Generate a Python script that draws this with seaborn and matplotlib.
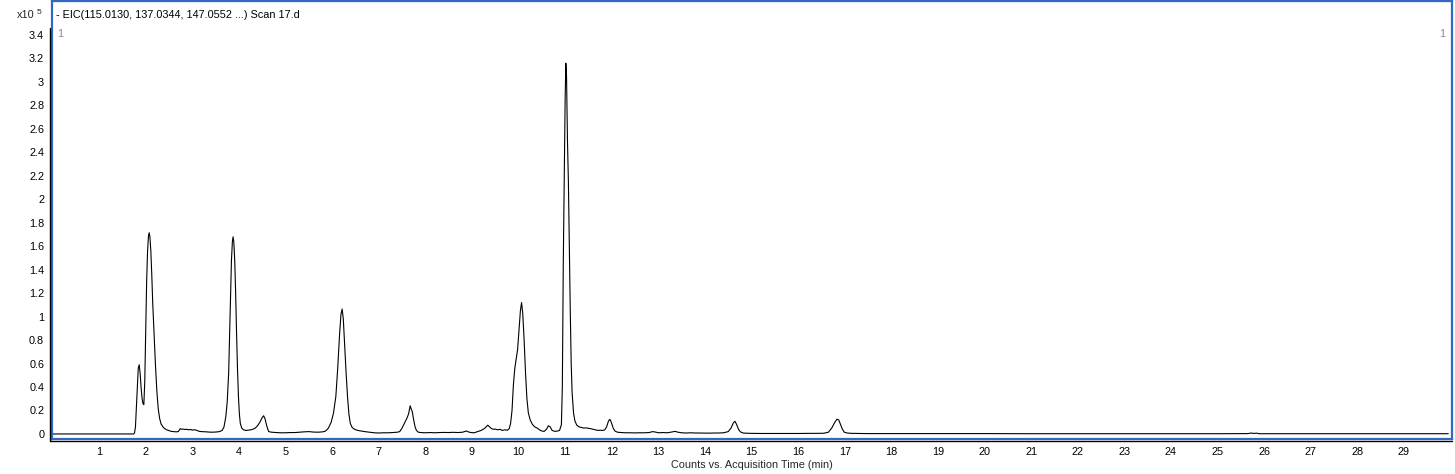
import matplotlib
matplotlib.use("Agg")
import matplotlib.pyplot as plt
from matplotlib.lines import Line2D
import seaborn as sns

# retention time (min) and counts (x10^5)
time_min = [
    0.00, 1.00, 1.74, 1.76, 1.78, 1.80, 1.82, 1.84, 1.86, 1.88, 1.90, 1.92, 1.94, 1.96, 1.98,
    2.00, 2.02, 2.04, 2.06, 2.075, 2.09, 2.11, 2.13, 2.15, 2.18, 2.21, 2.24, 2.27, 2.30, 2.33,
    2.37, 2.41, 2.45, 2.50, 2.55, 2.60, 2.65, 2.70, 2.74, 2.77, 2.80, 2.84, 2.88, 2.92, 2.96,
    3.00, 3.05, 3.10, 3.15, 3.20, 3.30, 3.40, 3.50, 3.58, 3.64, 3.68, 3.72, 3.75, 3.78, 3.80,
    3.82, 3.84, 3.86, 3.875, 3.89, 3.91, 3.93, 3.95, 3.97, 3.99, 4.01, 4.03, 4.06, 4.10, 4.15,
    4.20, 4.25, 4.30, 4.35, 4.40, 4.45, 4.50, 4.53, 4.56, 4.59, 4.62, 4.64, 4.70, 4.80, 4.90,
    5.00, 5.10, 5.20, 5.30, 5.40, 5.50, 5.60, 5.70, 5.80, 5.86, 5.92, 5.98, 6.03, 6.08, 6.12,
    6.16, 6.19, 6.215, 6.24, 6.27, 6.30, 6.33, 6.36, 6.39, 6.43, 6.48, 6.55, 6.62, 6.70, 6.80,
    6.90, 7.00, 7.10, 7.20, 7.30, 7.40, 7.45, 7.50, 7.55, 7.60, 7.64, 7.675, 7.70, 7.72, 7.75,
    7.78, 7.81, 7.85, 7.90, 8.00, 8.10, 8.20, 8.30, 8.40, 8.50, 8.60, 8.70, 8.80, 8.88, 8.92,
    8.98, 9.05, 9.12, 9.20, 9.28, 9.34, 9.38, 9.42, 9.46, 9.50, 9.55, 9.60, 9.65, 9.70, 9.76,
    9.80, 9.83, 9.86, 9.89, 9.92, 9.95, 9.98, 10.01, 10.04, 10.065, 10.09, 10.12, 10.15, 10.18, 10.21,
    10.25, 10.30, 10.35, 10.40, 10.45, 10.50, 10.55, 10.60, 10.64, 10.68, 10.72, 10.78, 10.84, 10.88, 10.92,
    10.94, 10.96, 10.98, 11.00, 11.015, 11.03, 11.05, 11.07, 11.09, 11.11, 11.13, 11.15, 11.18, 11.21, 11.25,
    11.30, 11.35, 11.40, 11.45, 11.50, 11.55, 11.60, 11.65, 11.70, 11.75, 11.80, 11.85, 11.89, 11.93, 11.96,
    11.99, 12.03, 12.07, 12.12, 12.20, 12.30, 12.40, 12.50, 12.60, 12.70, 12.80, 12.88, 12.95, 13.00, 13.10,
    13.20, 13.30, 13.36, 13.42, 13.50, 13.60, 13.70, 13.80, 13.90, 14.00, 14.10, 14.20, 14.30, 14.40, 14.50,
    14.56, 14.61, 14.645, 14.68, 14.72, 14.76, 14.82, 14.90, 15.00, 15.20, 15.40, 15.60, 15.80, 16.00, 16.20,
    16.40, 16.55, 16.65, 16.72, 16.78, 16.83, 16.87, 16.91, 16.95, 16.99, 17.05, 17.15, 17.30, 17.50, 18.00,
    18.50, 19.00, 19.50, 20.00, 21.00, 22.00, 23.00, 24.00, 25.00, 25.65, 25.72, 25.78, 25.83, 25.90, 27.00,
    28.00, 29.00, 29.95,
]
counts_e5 = [
    0.000, 0.000, 0.000, 0.008, 0.060, 0.230, 0.420, 0.560, 0.590, 0.520, 0.400, 0.310, 0.260, 0.250, 0.450,
    0.900, 1.300, 1.560, 1.690, 1.715, 1.680, 1.560, 1.360, 1.120, 0.850, 0.580, 0.360, 0.210, 0.130, 0.085,
    0.060, 0.045, 0.035, 0.028, 0.022, 0.020, 0.018, 0.020, 0.045, 0.040, 0.042, 0.038, 0.040, 0.035, 0.038,
    0.033, 0.036, 0.030, 0.022, 0.020, 0.018, 0.015, 0.016, 0.020, 0.030, 0.060, 0.150, 0.280, 0.520, 0.850,
    1.200, 1.480, 1.640, 1.680, 1.640, 1.480, 1.200, 0.850, 0.550, 0.320, 0.170, 0.090, 0.050, 0.035, 0.030,
    0.032, 0.035, 0.040, 0.050, 0.070, 0.100, 0.140, 0.155, 0.130, 0.080, 0.040, 0.020, 0.015, 0.012, 0.010,
    0.010, 0.012, 0.012, 0.015, 0.018, 0.020, 0.016, 0.015, 0.018, 0.025, 0.050, 0.100, 0.180, 0.320, 0.560,
    0.850, 1.020, 1.065, 0.980, 0.750, 0.520, 0.320, 0.170, 0.090, 0.055, 0.040, 0.030, 0.025, 0.020, 0.015,
    0.010, 0.008, 0.010, 0.010, 0.012, 0.015, 0.020, 0.050, 0.090, 0.130, 0.170, 0.240, 0.210, 0.190, 0.120,
    0.060, 0.030, 0.015, 0.012, 0.010, 0.012, 0.010, 0.012, 0.013, 0.012, 0.014, 0.012, 0.015, 0.025, 0.018,
    0.012, 0.010, 0.020, 0.030, 0.050, 0.075, 0.060, 0.045, 0.040, 0.042, 0.035, 0.040, 0.030, 0.035, 0.032,
    0.045, 0.090, 0.200, 0.420, 0.560, 0.640, 0.720, 0.880, 1.050, 1.120, 1.030, 0.800, 0.520, 0.300, 0.180,
    0.120, 0.080, 0.060, 0.050, 0.035, 0.025, 0.022, 0.040, 0.070, 0.060, 0.030, 0.022, 0.025, 0.030, 0.080,
    0.400, 1.450, 2.150, 2.850, 3.160, 3.050, 2.500, 2.150, 1.600, 1.050, 0.600, 0.350, 0.180, 0.110, 0.075,
    0.060, 0.055, 0.050, 0.052, 0.048, 0.045, 0.040, 0.035, 0.030, 0.032, 0.030, 0.035, 0.060, 0.110, 0.125,
    0.100, 0.050, 0.025, 0.015, 0.012, 0.010, 0.010, 0.009, 0.010, 0.010, 0.012, 0.020, 0.015, 0.010, 0.012,
    0.010, 0.018, 0.022, 0.015, 0.010, 0.008, 0.010, 0.008, 0.008, 0.007, 0.007, 0.008, 0.008, 0.010, 0.020,
    0.050, 0.095, 0.108, 0.080, 0.040, 0.018, 0.008, 0.006, 0.005, 0.004, 0.004, 0.004, 0.004, 0.004, 0.005,
    0.005, 0.006, 0.015, 0.050, 0.095, 0.125, 0.120, 0.080, 0.040, 0.015, 0.008, 0.005, 0.004, 0.003, 0.003,
    0.003, 0.003, 0.003, 0.003, 0.002, 0.002, 0.002, 0.002, 0.002, 0.003, 0.008, 0.004, 0.007, 0.002, 0.002,
    0.002, 0.002, 0.002,
]

x_ticks = list(range(1, 30))
y_ticks = [0, 0.2, 0.4, 0.6, 0.8, 1, 1.2, 1.4, 1.6, 1.8, 2, 2.2, 2.4, 2.6, 2.8, 3, 3.2, 3.4]

title_text = "- EIC(115.0130, 137.0344, 147.0552 ...) Scan 17.d"
x_label = "Counts vs. Acquisition Time (min)"

sns.set_style("white")
plt.rcParams["font.family"] = ["Liberation Sans", "DejaVu Sans"]

W, H = 1455, 474
fig = plt.figure(figsize=(W / 100, H / 100), dpi=100)
ax = fig.add_axes([52.5 / W, 1 - 439 / H, 1399.5 / W, 438 / H])

sns.lineplot(x=time_min, y=counts_e5, color="black", linewidth=0.8, ax=ax)

ax.set_xlim(0, 30.03)
ax.set_ylim(-0.043, 3.69)
ax.set_xticks(x_ticks)
ax.set_xticklabels([str(v) for v in x_ticks])
ax.set_yticks(y_ticks)
ax.set_yticklabels([f"{v:g}" for v in y_ticks])
ax.tick_params(axis="both", direction="out", color="black", width=0.8,
               labelsize=7.8, labelcolor="black")
ax.tick_params(axis="y", length=4.5, pad=1.5)
ax.tick_params(axis="x", length=5, pad=0.8)
ax.set_xlabel(x_label, fontsize=7.8, labelpad=2)
ax.set_ylabel("")

blue = "#3068c4"
for side in ["top", "bottom", "left", "right"]:
    ax.spines[side].set_visible(True)
    ax.spines[side].set_color(blue)
    ax.spines[side].set_linewidth(1.6)

# black axis lines just outside the blue frame
fig.add_artist(Line2D([50 / W, 50 / W], [1 - 28 / H, 1 - 440.5 / H], color="black", lw=1))
fig.add_artist(Line2D([50 / W, 1452 / W], [1 - 440.5 / H, 1 - 440.5 / H], color="black", lw=1))

ax.text(0.0022, 0.969, title_text, transform=ax.transAxes, fontsize=7.8,
        ha="left", va="center", color="black")
ax.text(0.0035, 0.924, "1", transform=ax.transAxes, fontsize=7.8,
        ha="left", va="center", color="#9b7bab")
ax.text(0.9955, 0.924, "1", transform=ax.transAxes, fontsize=7.8,
        ha="right", va="center", color="#9b7bab")

fig.text(17 / W, 1 - 15 / H, "x10", fontsize=7.8, ha="left", va="center")
fig.text(37 / W, 1 - 12 / H, "5", fontsize=6, ha="left", va="center")

fig.savefig("out.png", dpi=100)
